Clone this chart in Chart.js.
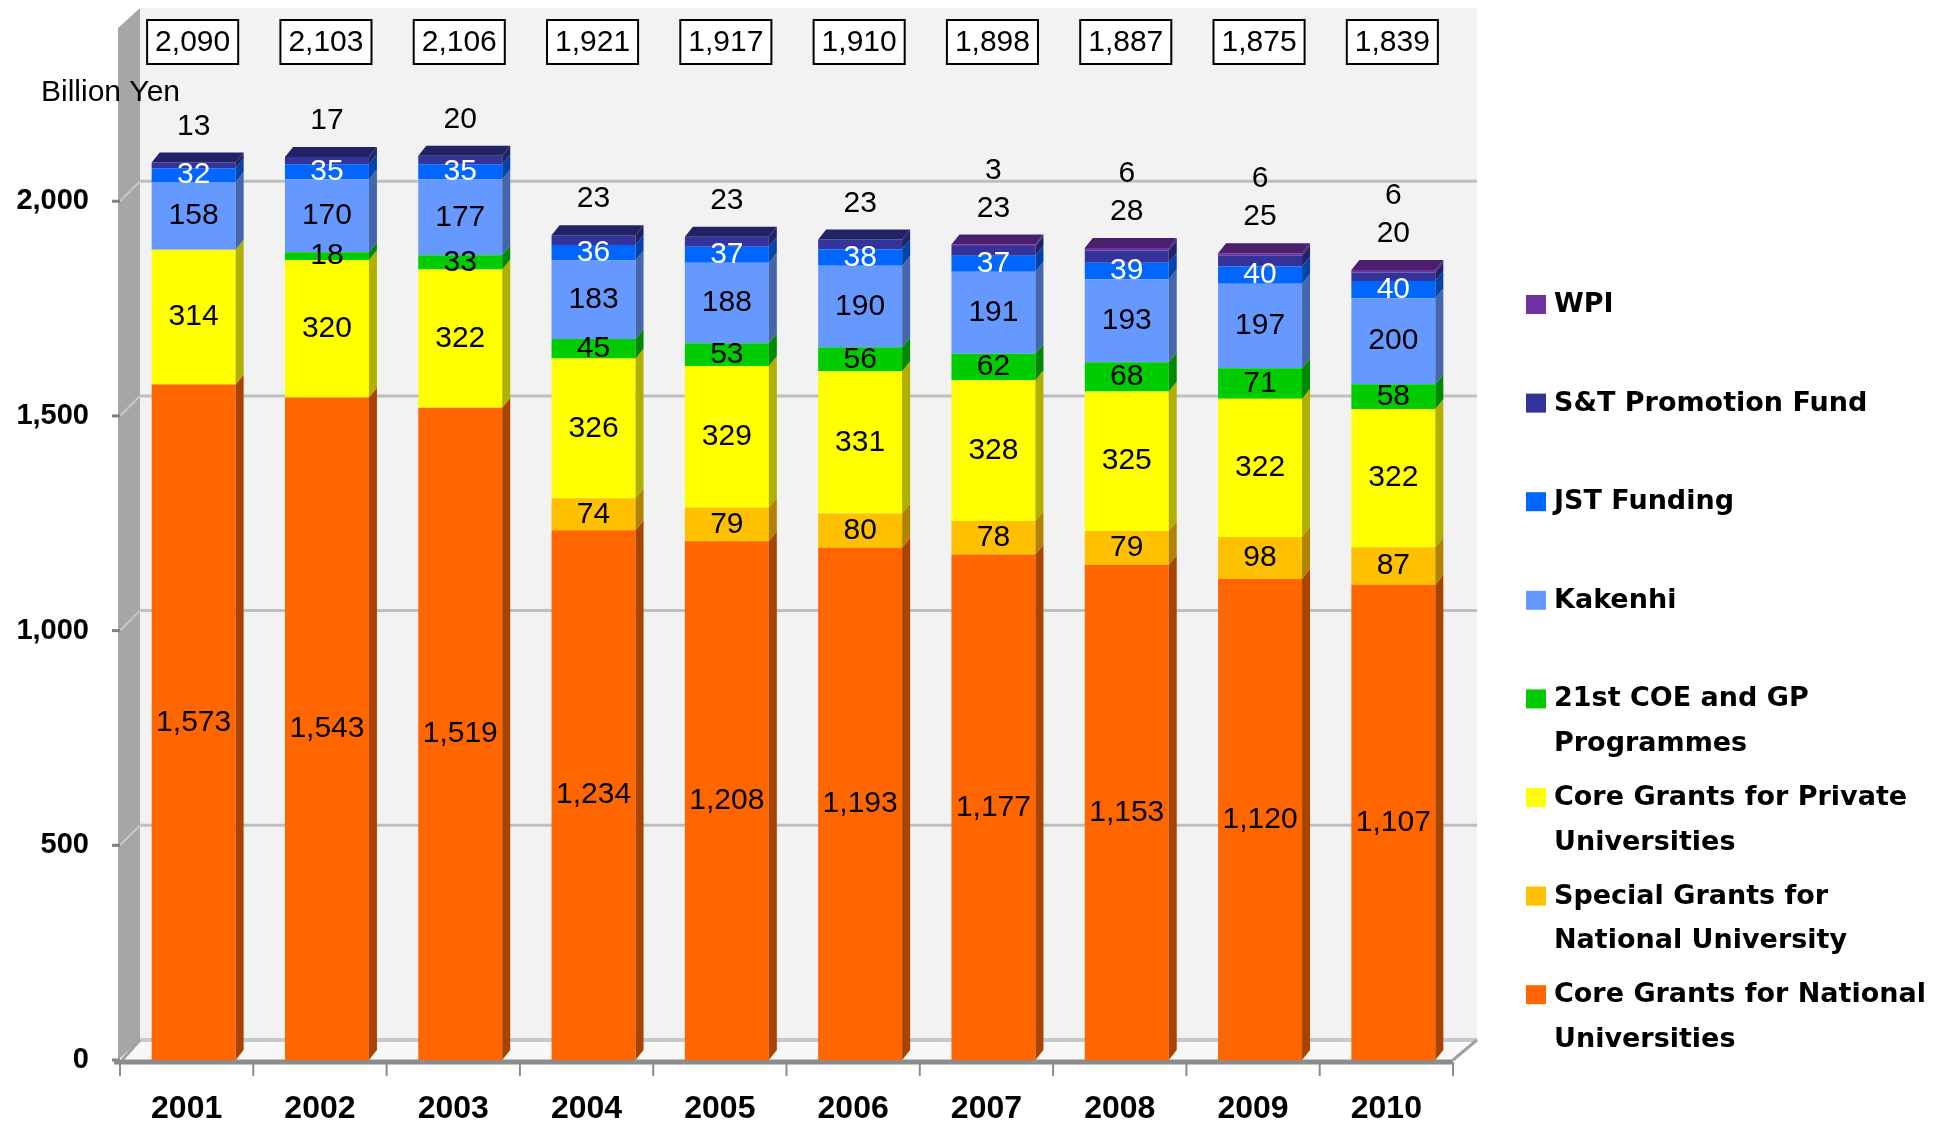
<!DOCTYPE html>
<html>
<head>
<meta charset="utf-8">
<script src="https://cdn.jsdelivr.net/npm/chart.js@4.4.1/dist/chart.umd.min.js"></script>
<style>
  html, body { margin: 0; padding: 0; background: #fff; }
  canvas { display: block; }
</style>
</head>
<body>
<canvas id="fundChart" width="1939" height="1129"></canvas>
<script>
// data (billion yen)
const years = ['2001', '2002', '2003', '2004', '2005', '2006', '2007', '2008', '2009', '2010'];
const coreNational = [1573, 1543, 1519, 1234, 1208, 1193, 1177, 1153, 1120, 1107];
const specialNational = [0, 0, 0, 74, 79, 80, 78, 79, 98, 87];
const corePrivate = [314, 320, 322, 326, 329, 331, 328, 325, 322, 322];
const coeGp = [0, 18, 33, 45, 53, 56, 62, 68, 71, 58];
const kakenhi = [158, 170, 177, 183, 188, 190, 191, 193, 197, 200];
const jstFunding = [32, 35, 35, 36, 37, 38, 37, 39, 40, 40];
const stPromotion = [13, 17, 20, 23, 23, 23, 23, 28, 25, 20];
const wpi = [0, 0, 0, 0, 0, 0, 3, 6, 6, 6];
const totals = [2090, 2103, 2106, 1921, 1917, 1910, 1898, 1887, 1875, 1839];
const yTicks = [0, 500, 1000, 1500, 2000];

const series = [
    { label: ['Core Grants for National', 'Universities'], data: coreNational, color: '#FF6600', side: '#A84400', text: '#000' },
    { label: ['Special Grants for', 'National University'], data: specialNational, color: '#FFC000', side: '#B08400', text: '#000' },
    { label: ['Core Grants for Private', 'Universities'], data: corePrivate, color: '#FFFF00', side: '#B0B000', text: '#000' },
    { label: ['21st COE and GP', 'Programmes'], data: coeGp, color: '#00CC00', side: '#008800', text: '#000' },
    { label: ['Kakenhi'], data: kakenhi, color: '#6699FF', side: '#4466AA', text: '#000' },
    { label: ['JST Funding'], data: jstFunding, color: '#0066FF', side: '#0044AA', text: '#fff' },
    { label: ['S&T Promotion Fund'], data: stPromotion, color: '#333399', side: '#222266', text: '#000' },
    { label: ['WPI'], data: wpi, color: '#7030A0', side: '#4A1F6E', text: '#000' }
];

const numFont = '30px "Liberation Sans", Arial, sans-serif';
const fmt = v => v.toLocaleString('en-US');
const barShift = 7;

// back wall, floor, gridlines (Excel 3D look)
const wallPlugin = {
    id: 'wall',
    beforeDatasetsDraw(chart) {
        const { ctx, chartArea: ca, scales: { y } } = chart;
        const dxL = 20, dxR = 24, dy = 20;
        ctx.save();
        ctx.fillStyle = '#F2F2F2';
        ctx.fillRect(ca.left + dxL, ca.top, ca.right + dxR - ca.left - dxL, ca.bottom - dy - ca.top);
        // left wall
        ctx.fillStyle = '#A6A6A6';
        ctx.beginPath();
        ctx.moveTo(ca.left - 2, ca.top + dy);
        ctx.lineTo(ca.left + dxL, ca.top);
        ctx.lineTo(ca.left + dxL, ca.bottom - dy);
        ctx.lineTo(ca.left - 2, ca.bottom);
        ctx.closePath();
        ctx.fill();
        // floor
        ctx.fillStyle = '#F8F8F8';
        ctx.beginPath();
        ctx.moveTo(ca.left, ca.bottom);
        ctx.lineTo(ca.left + dxL, ca.bottom - dy);
        ctx.lineTo(ca.right + dxR, ca.bottom - dy);
        ctx.lineTo(ca.right, ca.bottom);
        ctx.closePath();
        ctx.fill();
        ctx.strokeStyle = '#C8C8C8';
        ctx.lineWidth = 4;
        ctx.beginPath();
        ctx.moveTo(ca.left + dxL, ca.bottom - dy);
        ctx.lineTo(ca.right + dxR, ca.bottom - dy);
        ctx.stroke();
        ctx.strokeStyle = '#A0A0A0';
        ctx.lineWidth = 3;
        ctx.beginPath();
        ctx.moveTo(ca.left + 2, ca.bottom);
        ctx.lineTo(ca.left + dxL, ca.bottom - dy);
        ctx.moveTo(ca.right, ca.bottom);
        ctx.lineTo(ca.right + dxR, ca.bottom - dy);
        ctx.stroke();
        // gridlines on the back wall
        yTicks.forEach(v => {
            const py = y.getPixelForValue(v);
            if (v > 0) {
                ctx.strokeStyle = '#BFBFBF';
                ctx.lineWidth = 3;
                ctx.beginPath();
                ctx.moveTo(ca.left + dxL, py - dy);
                ctx.lineTo(ca.right + dxR, py - dy);
                ctx.stroke();
                ctx.strokeStyle = '#C8C8C8';
                ctx.lineWidth = 2;
                ctx.beginPath();
                ctx.moveTo(ca.left, py);
                ctx.lineTo(ca.left + dxL, py - dy);
                ctx.stroke();
            }
            ctx.strokeStyle = '#808080';
            ctx.lineWidth = 3;
            ctx.beginPath();
            ctx.moveTo(ca.left - 8, py);
            ctx.lineTo(ca.left, py);
            ctx.stroke();
        });
        // front axis line
        ctx.strokeStyle = '#8C8C8C';
        ctx.lineWidth = 5;
        ctx.beginPath();
        ctx.moveTo(ca.left - 6, ca.bottom + 2);
        ctx.lineTo(ca.right, ca.bottom + 2);
        ctx.stroke();
        ctx.lineWidth = 2;
        for (let i = 0; i <= years.length; i++) {
            const px = ca.left + (ca.right - ca.left) * i / years.length;
            ctx.beginPath();
            ctx.moveTo(px, ca.bottom + 2);
            ctx.lineTo(px, ca.bottom + 16);
            ctx.stroke();
        }
        ctx.restore();
    }
};

// side and top faces, value labels, totals, legend
const decoPlugin = {
    id: 'deco',
    beforeDatasetsDraw(chart) {
        chart.ctx.save();
        chart.ctx.translate(barShift, 0);
    },
    afterDatasetsDraw(chart) {
        const { ctx, scales: { y } } = chart;
        const dx = 8, dy = 10;
        years.forEach((_, i) => {
            let topDs = -1;
            series.forEach((s, di) => {
                if (!s.data[i]) return;
                const el = chart.getDatasetMeta(di).data[i];
                const r = el.x + el.width / 2;
                ctx.fillStyle = s.side;
                ctx.beginPath();
                ctx.moveTo(r, el.y);
                ctx.lineTo(r + dx, el.y - dy);
                ctx.lineTo(r + dx, el.base - dy);
                ctx.lineTo(r, el.base);
                ctx.closePath();
                ctx.fill();
                topDs = di;
            });
            const el = chart.getDatasetMeta(topDs).data[i];
            const l = el.x - el.width / 2, r = el.x + el.width / 2;
            ctx.fillStyle = series[topDs].side;
            ctx.beginPath();
            ctx.moveTo(l, el.y);
            ctx.lineTo(l + dx, el.y - dy);
            ctx.lineTo(r + dx, el.y - dy);
            ctx.lineTo(r, el.y);
            ctx.closePath();
            ctx.fill();
        });

        ctx.font = numFont;
        ctx.textAlign = 'center';
        ctx.textBaseline = 'middle';
        years.forEach((_, i) => {
            let sum = 0;
            series.forEach((s, di) => {
                const v = s.data[i];
                sum += v;
                if (!v || di > 5) return;
                const el = chart.getDatasetMeta(di).data[i];
                ctx.fillStyle = s.text;
                ctx.fillText(fmt(v), el.x, (el.y + el.base) / 2);
            });
            const cx = chart.getDatasetMeta(0).data[i].x;
            const top = y.getPixelForValue(sum);
            ctx.fillStyle = '#000';
            if (stPromotion[i]) ctx.fillText(fmt(stPromotion[i]), cx, top - 36);
            if (wpi[i]) ctx.fillText(fmt(wpi[i]), cx, top - 74);
        });
        ctx.restore();
    },
    afterDraw(chart) {
        const { ctx, scales: { x } } = chart;
        ctx.save();
        // totals in boxes
        ctx.font = numFont;
        ctx.textAlign = 'center';
        ctx.textBaseline = 'middle';
        totals.forEach((t, i) => {
            const cx = x.getPixelForValue(i) + 6;
            const w = ctx.measureText(fmt(t)).width + 16;
            ctx.fillStyle = '#fff';
            ctx.fillRect(cx - w / 2, 20, w, 44);
            ctx.strokeStyle = '#000';
            ctx.lineWidth = 2;
            ctx.strokeRect(cx - w / 2, 20, w, 44);
            ctx.fillStyle = '#000';
            ctx.fillText(fmt(t), cx, 43);
        });
        // unit label
        ctx.textAlign = 'left';
        ctx.font = '30px "Liberation Sans", Arial, sans-serif';
        ctx.fillText('Billion Yen', 41, 93);
        // legend, top entry first
        ctx.font = 'bold 27px "DejaVu Sans", sans-serif';
        const order = series.slice().reverse();
        order.forEach((s, k) => {
            const ly = 305 + k * 98.6;
            ctx.fillStyle = s.color;
            ctx.fillRect(1526, ly - 10, 20, 19);
            ctx.fillStyle = '#000';
            s.label.forEach((line, j) => ctx.fillText(line, 1554, ly + j * 44.5));
        });
        ctx.restore();
    }
};

new Chart(document.getElementById('fundChart'), {
    type: 'bar',
    data: {
        labels: years,
        datasets: series.map(s => ({
            label: s.label.join(' '),
            data: s.data,
            backgroundColor: s.color,
            borderWidth: 0,
            categoryPercentage: 0.63,
            barPercentage: 1.0
        }))
    },
    options: {
        responsive: false,
        animation: false,
        devicePixelRatio: 1,
        layout: { padding: { left: 0, top: 8, right: 486, bottom: 0 } },
        plugins: { legend: { display: false }, tooltip: { enabled: false } },
        scales: {
            x: {
                stacked: true,
                grid: { display: false, drawTicks: false },
                border: { display: false },
                ticks: { color: '#000', padding: 30, font: { family: '"Liberation Sans", Arial, sans-serif', size: 32, weight: 'bold' } },
                afterFit: s => { s.height = 69; s.paddingLeft = 0; s.paddingRight = 0; }
            },
            y: {
                stacked: true,
                min: 0,
                max: 2450,
                afterBuildTicks: s => { s.ticks = yTicks.map(v => ({ value: v })); },
                grid: { display: false, drawTicks: false },
                border: { display: false },
                ticks: { color: '#000', padding: 31, callback: v => fmt(v), font: { family: '"Liberation Sans", Arial, sans-serif', size: 29, weight: 'bold' } },
                afterFit: s => { s.width = 120; s.paddingTop = 0; s.paddingBottom = 0; }
            }
        }
    },
    plugins: [wallPlugin, decoPlugin]
});
</script>
</body>
</html>
